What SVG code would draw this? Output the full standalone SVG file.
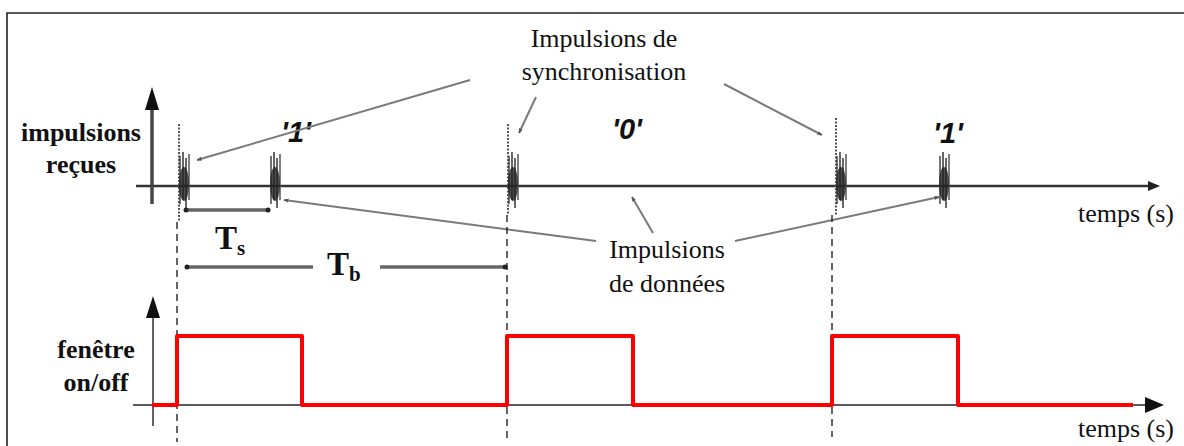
<svg xmlns="http://www.w3.org/2000/svg" width="1184" height="446" viewBox="0 0 1184 446">
<style>
.lbl{font-family:"Liberation Serif","Times New Roman",serif;font-size:26px;fill:#111}
.bold{font-family:"Liberation Serif","Times New Roman",serif;font-size:26px;font-weight:bold;fill:#111}
.bit{font-family:"Liberation Sans",Arial,sans-serif;font-size:29px;font-weight:bold;font-style:italic;fill:#111}
.tt{font-family:"Liberation Serif","Times New Roman",serif;font-size:33px;font-weight:bold;fill:#111}
.sub{font-size:21px}
.leader{stroke:#7a7a7a;stroke-width:2;fill:none;marker-end:url(#sm)}
.dash{stroke:#111;stroke-width:1.3;stroke-dasharray:7,5;fill:none}
.dot{stroke:#555;stroke-width:2;stroke-dasharray:2,1.5;fill:none}
.wave{stroke:#ff0000;stroke-width:4;fill:none;stroke-linejoin:round}
.dim{stroke:#666;stroke-width:3.5;fill:none}
</style>
<defs>
<marker id="sm" viewBox="0 0 10 10" refX="9" refY="5" markerWidth="5" markerHeight="5" orient="auto" markerUnits="userSpaceOnUse">
<path d="M0,1 L10,5 L0,9 z" fill="#555"/>
</marker>
<g id="pulse">
<line x1="1" y1="-30" x2="1" y2="18" stroke="#444" stroke-width="1.5"/>
<line x1="4" y1="-34" x2="4" y2="14" stroke="#333" stroke-width="1.5"/>
<line x1="7" y1="-28" x2="7" y2="22" stroke="#333" stroke-width="1.5"/>
<line x1="10" y1="-32" x2="10" y2="14" stroke="#555" stroke-width="1.5"/>
<ellipse cx="5" cy="-2" rx="5" ry="17" fill="#222" opacity="0.8"/>
</g>
</defs>

<g id="frame">
<path d="M7,446 L7,13 L1184,13" stroke="#222" stroke-width="1.6" fill="none"/>
</g>

<g id="axes">
<line x1="136" y1="186" x2="1150" y2="186" stroke="#333" stroke-width="2.5"/>
<path d="M1148,181 L1160,186 L1148,191 z" fill="#222"/>
<line x1="152" y1="204" x2="152" y2="106" stroke="#444" stroke-width="3.5"/>
<path d="M145,110 L152,87 L159,110 z" fill="#111"/>
<line x1="133" y1="405" x2="1148" y2="405" stroke="#222" stroke-width="1.4"/>
<path d="M1145,397 L1164,405 L1145,413 z" fill="#111"/>
<line x1="153" y1="426" x2="153" y2="316" stroke="#222" stroke-width="1.4"/>
<path d="M146,318 L153,296 L160,318 z" fill="#111"/>
</g>

<g id="labels">
<text class="bold" x="81" y="141" text-anchor="middle">impulsions</text>
<text class="bold" x="81" y="173" text-anchor="middle">reçues</text>
<text class="bold" x="96" y="358" text-anchor="middle">fenêtre</text>
<text class="bold" x="96" y="391" text-anchor="middle">on/off</text>
<text class="lbl" x="1126" y="222" text-anchor="middle">temps (s)</text>
<text class="lbl" x="1126" y="437" text-anchor="middle">temps (s)</text>
</g>

<g id="pulses">
<line class="dot" x1="179" y1="124" x2="179" y2="222"/>
<use href="#pulse" x="179" y="186"/>
<use href="#pulse" x="270" y="186"/>
<line class="dot" x1="508" y1="124" x2="508" y2="215"/>
<use href="#pulse" x="508" y="186"/>
<line class="dot" x1="836" y1="118" x2="836" y2="215"/>
<use href="#pulse" x="836" y="186"/>
<use href="#pulse" x="939" y="186"/>
</g>

<g id="bits">
<text class="bit" x="296" y="142" text-anchor="middle">'1'</text>
<text class="bit" x="627" y="139" text-anchor="middle">'0'</text>
<text class="bit" x="948" y="143" text-anchor="middle">'1'</text>
</g>

<g id="sync-label">
<text class="lbl" x="604" y="47" text-anchor="middle">Impulsions de</text>
<text class="lbl" x="604" y="80" text-anchor="middle">synchronisation</text>
</g>

<g id="data-label">
<text class="lbl" x="667" y="258" text-anchor="middle">Impulsions</text>
<text class="lbl" x="667" y="292" text-anchor="middle">de données</text>
</g>

<g id="connectors">
<line class="leader" x1="470" y1="80" x2="197" y2="160"/>
<line class="leader" x1="536" y1="97" x2="519" y2="133"/>
<line class="leader" x1="724" y1="84" x2="822" y2="135"/>
<line class="leader" x1="596" y1="241" x2="284" y2="200"/>
<line class="leader" x1="653" y1="233" x2="632" y2="197"/>
<line class="leader" x1="735" y1="241" x2="939" y2="197"/>
</g>

<g id="timing">
<line class="dim" x1="186" y1="210" x2="268" y2="210"/>
<circle cx="186" cy="210" r="2.5" fill="#222"/>
<circle cx="268" cy="210" r="2.5" fill="#222"/>
<text class="tt" x="215" y="249">T<tspan class="sub" dy="6">s</tspan></text>
<line class="dim" x1="187" y1="267" x2="313" y2="267"/>
<line class="dim" x1="380" y1="267" x2="505" y2="267"/>
<circle cx="187" cy="267" r="2.5" fill="#222"/>
<circle cx="505" cy="267" r="2.5" fill="#222"/>
<text class="tt" x="327" y="275">T<tspan class="sub" dy="6">b</tspan></text>
</g>

<g id="dashes">
<line class="dash" x1="177" y1="222" x2="177" y2="442"/>
<line class="dash" x1="507" y1="215" x2="507" y2="442"/>
<line class="dash" x1="832" y1="215" x2="832" y2="437"/>
</g>

<g id="window">
<path class="wave" d="M152,405 H177 V336 H302 V405 H507 V336 H633 V405 H832 V336 H958 V405 H1133"/>
</g>
</svg>
